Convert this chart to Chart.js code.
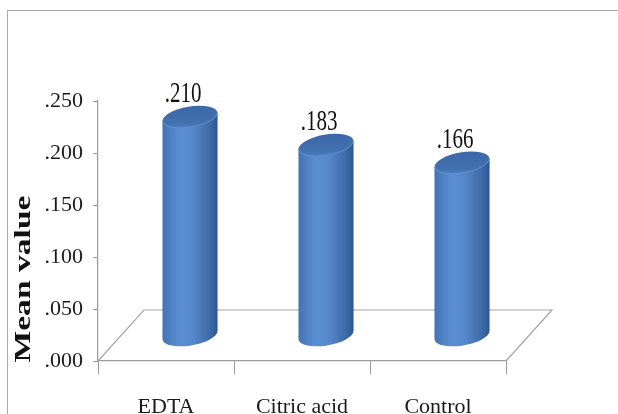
<!DOCTYPE html>
<html>
<head>
<meta charset="utf-8">
<script src="https://cdn.jsdelivr.net/npm/chart.js@4.4.1/dist/chart.umd.min.js"></script>
<style>
  html, body { margin: 0; padding: 0; background: #fff; }
  #wrap { width: 618px; height: 414px; }
</style>
</head>
<body>
<div id="wrap"><canvas id="meanChart" width="618" height="414"></canvas></div>
<script>
// Data
const categories = ['EDTA', 'Citric acid', 'Control'];
const meanValues = [0.210, 0.183, 0.166];
const yMin = 0;
const yMax = 0.25;
const yStep = 0.05;
const yTitle = 'Mean value';

// ".250" style labels
function fmt(v) {
    return '.' + v.toFixed(3).split('.')[1];
}

const depthX = 46;   // 3D floor depth
const depthY = 51;
const serif = '"Liberation Serif", "Times New Roman", serif';

// white background + outer frame
const framePlugin = {
    id: 'frame',
    beforeDraw(chart) {
        const ctx = chart.ctx;
        ctx.save();
        ctx.fillStyle = '#fff';
        ctx.fillRect(0, 0, chart.width, chart.height);
        ctx.strokeStyle = '#a8a8a8';
        ctx.lineWidth = 1;
        ctx.strokeRect(7.5, 10.5, 700, 500);
        ctx.restore();
    }
};

// floor parallelogram under the bars
const floorPlugin = {
    id: 'floor',
    beforeDatasetsDraw(chart) {
        const ctx = chart.ctx;
        const a = chart.chartArea;
        ctx.save();
        ctx.strokeStyle = '#a6a6a6';
        ctx.lineWidth = 1.2;
        ctx.beginPath();
        ctx.moveTo(a.left, a.bottom);
        ctx.lineTo(a.left + depthX, a.bottom - depthY);
        ctx.lineTo(a.right + depthX, a.bottom - depthY);
        ctx.lineTo(a.right, a.bottom);
        ctx.stroke();
        ctx.restore();
    }
};

// cylinders drawn at the bar positions, pushed back half the depth
const cylinderPlugin = {
    id: 'cylinders',
    afterDatasetsDraw(chart) {
        const ctx = chart.ctx;
        const meta = chart.getDatasetMeta(0);
        const rot = -0.17;
        meta.data.forEach((bar, i) => {
            const p = bar.getProps(['x', 'y', 'base', 'width'], true);
            const cx = p.x + depthX / 2 + 1;
            const topY = p.y - depthY / 2;
            const botY = p.base - depthY / 2;
            const a = p.width / 2;
            const b = 10.5;
            const t0 = Math.atan(-(b / a) * Math.tan(rot));
            const pt = (cy, t) => [
                cx + a * Math.cos(t) * Math.cos(rot) - b * Math.sin(t) * Math.sin(rot),
                cy + a * Math.cos(t) * Math.sin(rot) + b * Math.sin(t) * Math.cos(rot)
            ];
            const rTop = pt(topY, t0);
            const lTop = pt(topY, t0 + Math.PI);
            const rBot = pt(botY, t0);

            ctx.save();
            // body
            const g = ctx.createLinearGradient(lTop[0], 0, rTop[0], 0);
            g.addColorStop(0, '#4373b3');
            g.addColorStop(0.3, '#5a8ed2');
            g.addColorStop(0.55, '#5587cb');
            g.addColorStop(0.85, '#3e6ca9');
            g.addColorStop(1, '#2b558f');
            ctx.fillStyle = g;
            ctx.beginPath();
            ctx.moveTo(rTop[0], rTop[1]);
            ctx.lineTo(rBot[0], rBot[1]);
            ctx.ellipse(cx, botY, a, b, rot, t0, t0 + Math.PI, false);
            ctx.lineTo(lTop[0], lTop[1]);
            ctx.closePath();
            ctx.fill();

            // top cap
            const tg = ctx.createLinearGradient(0, topY - b - 4, 0, topY + b + 4);
            tg.addColorStop(0, '#3a66a3');
            tg.addColorStop(0.7, '#4271b1');
            tg.addColorStop(1, '#5587c9');
            ctx.fillStyle = tg;
            ctx.beginPath();
            ctx.ellipse(cx, topY, a, b, rot, 0, Math.PI * 2);
            ctx.fill();
            ctx.strokeStyle = 'rgba(110,150,210,0.8)';
            ctx.lineWidth = 1;
            ctx.beginPath();
            ctx.ellipse(cx, topY, a - 0.5, b - 0.5, rot, t0, t0 + Math.PI, false);
            ctx.stroke();

            // value label
            ctx.translate(cx - 7, topY - 15);
            ctx.scale(1, 1.4);
            ctx.font = '21px ' + serif;
            ctx.fillStyle = '#111';
            ctx.textAlign = 'center';
            ctx.textBaseline = 'alphabetic';
            ctx.fillText(fmt(meanValues[i]), 0, 0);
            ctx.restore();
        });
    }
};

// rotated, stretched axis title
const titlePlugin = {
    id: 'yTitle',
    afterDraw(chart) {
        const ctx = chart.ctx;
        ctx.save();
        ctx.translate(24, 279);
        ctx.rotate(-Math.PI / 2);
        ctx.scale(1.6, 1.05);
        ctx.font = 'bold 21px ' + serif;
        ctx.fillStyle = '#111';
        ctx.textAlign = 'center';
        ctx.textBaseline = 'middle';
        ctx.fillText(yTitle, 0, 0);
        ctx.restore();
    }
};

const ctx = document.getElementById('meanChart').getContext('2d');
new Chart(ctx, {
    type: 'bar',
    data: {
        labels: categories,
        datasets: [{
            label: yTitle,
            data: meanValues,
            backgroundColor: 'rgba(0,0,0,0)',
            borderWidth: 0,
            categoryPercentage: 1,
            barPercentage: 0.41
        }]
    },
    options: {
        responsive: false,
        animation: false,
        layout: { padding: { left: 0, top: 101, right: 112, bottom: 0 } },
        plugins: {
            legend: { display: false },
            tooltip: { enabled: false }
        },
        scales: {
            x: {
                grid: { offset: true, drawOnChartArea: false, tickLength: 13, color: '#9a9a9a' },
                border: { color: '#9a9a9a', width: 1.2 },
                ticks: { font: { family: serif, size: 22 }, color: '#1a1a1a', padding: 20, maxRotation: 0 },
                afterFit(s) { s.height = 53; }
            },
            y: {
                min: yMin,
                max: yMax,
                grid: { drawOnChartArea: false, tickLength: 5, color: '#9a9a9a' },
                border: { color: '#9a9a9a', width: 1.2 },
                ticks: {
                    stepSize: yStep,
                    font: { family: serif, size: 22 },
                    color: '#1a1a1a',
                    padding: 10,
                    callback: v => fmt(v)
                },
                afterFit(s) { s.width = 98; }
            }
        }
    },
    plugins: [framePlugin, floorPlugin, cylinderPlugin, titlePlugin]
});
</script>
</body>
</html>
